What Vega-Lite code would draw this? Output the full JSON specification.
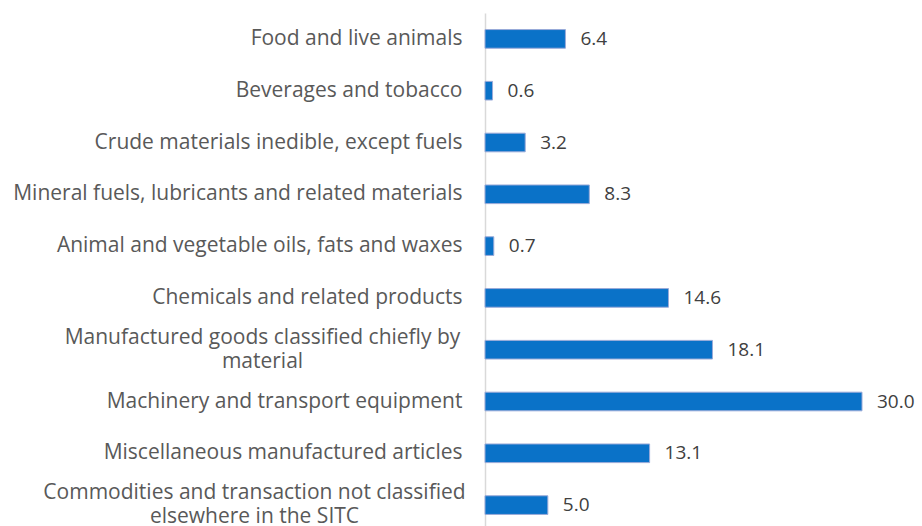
{
  "$schema": "https://vega.github.io/schema/vega-lite/v6.json",
  "width": 377,
  "height": 518,
  "autosize": {"type": "none"},
  "padding": {"left": 485, "top": 13, "right": 60, "bottom": 0},
  "background": "white",
  "config": {"view": {"stroke": null}},
  "data": {
    "values": [
      {"category": "Food and live animals", "value": 6.4},
      {"category": "Beverages and tobacco", "value": 0.6},
      {"category": "Crude materials inedible, except fuels", "value": 3.2},
      {"category": "Mineral fuels, lubricants and related materials", "value": 8.3},
      {"category": "Animal and vegetable oils, fats and waxes", "value": 0.7},
      {"category": "Chemicals and related products", "value": 14.6},
      {"category": "Manufactured goods classified chiefly by material", "value": 18.1},
      {"category": "Machinery and transport equipment", "value": 30.0},
      {"category": "Miscellaneous manufactured articles", "value": 13.1},
      {"category": "Commodities and transaction not classified elsewhere in the SITC", "value": 5.0}
    ]
  },
  "encoding": {
    "y": {
      "field": "category",
      "type": "nominal",
      "sort": null,
      "scale": {"paddingInner": 0.64, "paddingOuter": 0.32},
      "axis": {
        "title": null,
        "ticks": false,
        "domainColor": "#d9d9d9",
        "domainWidth": 1.5,
        "labelFont": "Open Sans",
        "labelFontSize": 21,
        "labelColor": "#595959",
        "labelLimit": 700,
        "labelLineHeight": 24,
        "labelExpr": "datum.value == 'Manufactured goods classified chiefly by material' ? ['Manufactured goods classified chiefly by', 'material'] : datum.value == 'Commodities and transaction not classified elsewhere in the SITC' ? ['Commodities and transaction not classified', 'elsewhere in the SITC'] : datum.value",
        "labelAlign": {"condition": {"test": "indexof(datum.value, 'Manufactured') == 0 || indexof(datum.value, 'Commodities') == 0", "value": "center"}, "value": "right"},
        "labelOffset": {"condition": {"test": "indexof(datum.value, 'Manufactured') == 0 || indexof(datum.value, 'Commodities') == 0", "value": -12}, "value": 0},
        "labelPadding": {"condition": [
          {"test": "indexof(datum.value, 'Manufactured') == 0", "value": 223},
          {"test": "indexof(datum.value, 'Commodities') == 0", "value": 231}
        ], "value": 23}
      }
    },
    "x": {
      "field": "value",
      "type": "quantitative",
      "scale": {"domain": [0, 30], "nice": false, "zero": true},
      "axis": null
    }
  },
  "layer": [
    {
      "mark": {"type": "bar", "color": "#0a72c8", "stroke": "#9aaad8", "strokeWidth": 1}
    },
    {
      "mark": {"type": "text", "align": "left", "dx": 15, "font": "Open Sans", "fontSize": 19, "color": "#404040"},
      "encoding": {"text": {"field": "value", "type": "quantitative", "format": ".1f"}}
    }
  ]
}
